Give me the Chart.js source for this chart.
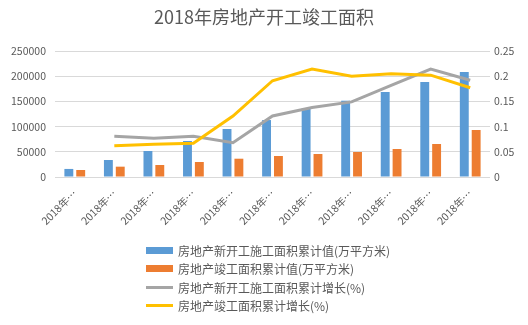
<!DOCTYPE html>
<html>
<head>
<meta charset="utf-8">
<script src="https://cdn.jsdelivr.net/npm/chart.js@4/dist/chart.umd.min.js"></script>
<style>
  html, body { margin: 0; padding: 0; background: #fff; }
  #wrap { position: relative; width: 528px; height: 325px; }
  #legend { position: absolute; left: 146px; top: 241px; font-family: "Noto Sans CJK SC", sans-serif; font-size: 12px; color: #595959; }
  .item { display: flex; align-items: center; height: 18.5px; }
  .sw { width: 27px; margin-right: 5px; }
</style>
</head>
<body>
<div id="wrap">
  <canvas id="c" width="528" height="325"></canvas>
  <div id="legend"></div>
</div>
<script>
const categories = ["2018年…","2018年…","2018年…","2018年…","2018年…","2018年…","2018年…","2018年…","2018年…","2018年…","2018年…"];
const newStartArea = [16000, 33700, 51600, 71400, 95200, 113000, 136300, 151400, 168700, 188500, 208300];
const completedArea = [13900, 20500, 23800, 29800, 36300, 41700, 45600, 49600, 55600, 65500, 93300];
const newStartGrowth = [null, 0.081, 0.077, 0.081, 0.068, 0.121, 0.138, 0.149, 0.182, 0.214, 0.192];
const completedGrowth = [null, 0.062, 0.065, 0.067, 0.121, 0.191, 0.214, 0.200, 0.205, 0.202, 0.177];
const leftTicks = [0, 50000, 100000, 150000, 200000, 250000];
const rightTicks = [0, 0.05, 0.1, 0.15, 0.2, 0.25];
const seriesNames = ["房地产新开工施工面积累计值(万平方米)", "房地产竣工面积累计值(万平方米)", "房地产新开工施工面积累计增长(%)", "房地产竣工面积累计增长(%)"];
const title = "2018年房地产开工竣工面积";

const colors = ["#5B9BD5", "#ED7D31", "#A5A5A5", "#FFC000"];
const font = "'Noto Sans CJK SC', 'Liberation Sans', sans-serif";
const txt = "#595959";

new Chart(document.getElementById("c"), {
  data: {
    labels: categories,
    datasets: [
      { type: "bar", label: seriesNames[0], data: newStartArea, backgroundColor: colors[0], yAxisID: "y", order: 2, categoryPercentage: 0.6, barPercentage: 0.75 },
      { type: "bar", label: seriesNames[1], data: completedArea, backgroundColor: colors[1], yAxisID: "y", order: 2, categoryPercentage: 0.6, barPercentage: 0.75 },
      { type: "line", label: seriesNames[2], data: newStartGrowth, borderColor: colors[2], borderWidth: 3, pointRadius: 0, tension: 0, yAxisID: "y1", order: 1 },
      { type: "line", label: seriesNames[3], data: completedGrowth, borderColor: colors[3], borderWidth: 3, pointRadius: 0, tension: 0, yAxisID: "y1", order: 0 }
    ]
  },
  options: {
    responsive: false,
    animation: false,
    layout: { padding: { left: 0, right: 0, top: 0, bottom: 85 } },
    plugins: {
      legend: { display: false },
      tooltip: { enabled: false },
      title: { display: true, text: title, color: txt, font: { family: font, size: 18, weight: "normal" }, padding: { top: 6, bottom: 23.4 } }
    },
    scales: {
      x: {
        grid: { display: false, drawTicks: false },
        border: { display: false },
        ticks: { color: txt, font: { family: font, size: 10.5 }, minRotation: 45, maxRotation: 45, padding: 10, autoSkip: false },
        afterFit: (s) => { s.height = 63; }
      },
      y: {
        position: "left", min: 0, max: 250000,
        afterBuildTicks: (s) => { s.ticks = leftTicks.map(v => ({ value: v })); },
        grid: { color: "#D9D9D9", drawTicks: false },
        border: { display: false },
        ticks: { color: txt, font: { family: font, size: 10.5 }, padding: 9, callback: (v) => String(v) },
        afterFit: (s) => { s.width = 55; }
      },
      y1: {
        position: "right", min: 0, max: 0.25,
        afterBuildTicks: (s) => { s.ticks = rightTicks.map(v => ({ value: v })); },
        grid: { display: false, drawTicks: false },
        border: { display: false },
        ticks: { color: txt, font: { family: font, size: 10.5 }, padding: 4, callback: (v) => String(v) },
        afterFit: (s) => { s.width = 38; }
      }
    }
  }
});

const legend = document.getElementById("legend");
seriesNames.forEach((name, i) => {
  const item = document.createElement("div");
  item.className = "item";
  const sw = document.createElement("span");
  sw.className = "sw";
  sw.style.background = colors[i];
  sw.style.height = i < 2 ? "7px" : "3px";
  const t = document.createElement("span");
  t.textContent = name;
  item.appendChild(sw);
  item.appendChild(t);
  legend.appendChild(item);
});
</script>
</body>
</html>
